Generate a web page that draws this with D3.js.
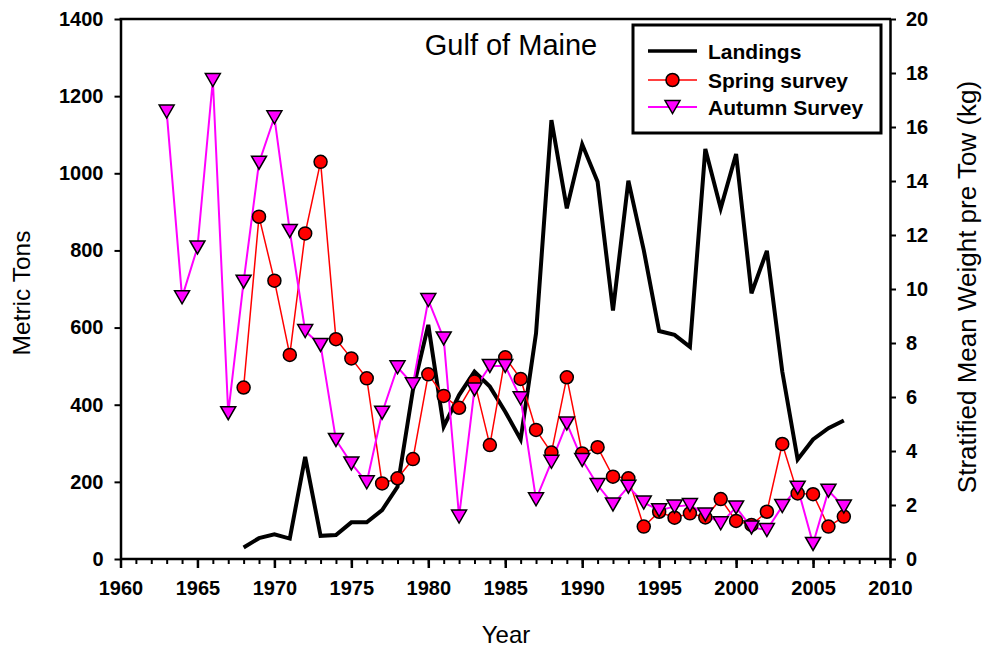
<!DOCTYPE html>
<html>
<head>
<meta charset="utf-8">
<script src="https://cdn.jsdelivr.net/npm/d3@7"></script>
<style>
  html, body { margin: 0; padding: 0; background: #fff; }
  svg { display: block; font-family: Arial, "Liberation Sans", sans-serif; }
</style>
</head>
<body>
<svg id="chart" width="986" height="651"></svg>
<script>
// ---- data ----
const landingYears = d3.range(1968, 2008);
const landings = [30,54,64,53,265,60,62,95,95,127,187,438,607,343,425,486,447,382,310,585,
                  1138,909,1075,978,644,981,801,591,581,550,1063,909,1050,689,799,486,258,310,339,359];
const springYears = d3.range(1968, 2008);
const spring = [6.35,12.68,10.31,7.56,12.06,14.71,8.14,7.43,6.69,2.8,2.99,3.7,6.84,6.04,5.6,6.57,4.22,7.47,6.67,4.78,
                3.94,6.73,3.91,4.14,3.05,2.99,1.2,1.75,1.53,1.69,1.54,2.22,1.41,1.26,1.75,4.26,2.43,2.4,1.2,1.57];
const autumnYears = d3.range(1963, 2008);
const autumn = [16.57,9.69,11.54,17.74,5.4,10.27,14.68,16.36,12.15,8.44,7.93,4.41,3.54,2.84,5.42,7.1,6.47,9.59,8.17,1.57,
                6.28,7.15,7.15,5.95,2.21,3.6,5.02,3.67,2.74,2.02,2.68,2.09,1.81,1.94,2.0,1.65,1.32,1.91,1.17,1.07,
                1.96,2.64,0.56,2.53,1.94];
const xTicks = [1960,1965,1970,1975,1980,1985,1990,1995,2000,2005,2010];
const leftTicks = [0,200,400,600,800,1000,1200,1400];
const rightTicks = [0,2,4,6,8,10,12,14,16,18,20];
const legendLabels = ["Landings", "Spring survey", "Autumn Survey"];
const titleText = "Gulf of Maine";

// ---- layout ----
const svg = d3.select("#chart");
const L = 120.5, R = 890, T = 19, B = 559;
const x = d3.scaleLinear().domain([1960, 2010]).range([L, R]);
const yL = d3.scaleLinear().domain([0, 1400]).range([B, T]);
const yR = d3.scaleLinear().domain([0, 20]).range([B, T]);

const tickFont = "bold 20px Arial, 'Liberation Sans', sans-serif";

// minor x ticks
svg.append("g").attr("transform", `translate(0,${B})`)
  .call(d3.axisBottom(x).tickValues(d3.range(1960, 2011)).tickSize(5).tickFormat(""))
  .call(g => { g.select(".domain").remove(); g.selectAll("line").attr("stroke","#000").attr("stroke-width",2); });
// major x ticks
const gx = svg.append("g").attr("transform", `translate(0,${B})`)
  .call(d3.axisBottom(x).tickValues(xTicks).tickSize(9).tickSizeOuter(0).tickFormat(d3.format("d")).tickPadding(8));
gx.select(".domain").attr("stroke-width", 2.5).attr("d", `M${L},0H${R}`);
gx.selectAll("line").attr("stroke-width", 2.5);
gx.selectAll("text").style("font", tickFont).attr("fill", "#000").attr("dy", "0.95em");

// left axis
const gl = svg.append("g").attr("transform", `translate(${L},0)`)
  .call(d3.axisLeft(yL).tickValues(leftTicks).tickSize(6).tickSizeOuter(0).tickPadding(11).tickFormat(d3.format("d")));
gl.select(".domain").attr("stroke-width", 2.5);
gl.selectAll("line").attr("stroke-width", 2);
gl.selectAll("text").style("font", tickFont).attr("fill", "#000");

// right axis
const gr = svg.append("g").attr("transform", `translate(${R},0)`)
  .call(d3.axisRight(yR).tickValues(rightTicks).tickSize(6).tickSizeOuter(0).tickPadding(10).tickFormat(d3.format("d")));
gr.select(".domain").attr("stroke-width", 2.5);
gr.selectAll("line").attr("stroke-width", 2);
gr.selectAll("text").style("font", tickFont).attr("fill", "#000");

// top frame
svg.append("line").attr("x1", L - 1).attr("x2", R + 1).attr("y1", T).attr("y2", T)
  .attr("stroke", "#000").attr("stroke-width", 2.5);

// axis titles
svg.append("text").attr("x", 506).attr("y", 643).attr("text-anchor", "middle")
  .style("font", "24px Arial, 'Liberation Sans', sans-serif").text("Year");
svg.append("text").attr("transform", "translate(30,293) rotate(-90)").attr("text-anchor", "middle")
  .style("font", "24.5px Arial, 'Liberation Sans', sans-serif").text("Metric Tons");
svg.append("text").attr("transform", "translate(976,287) rotate(-90)").attr("text-anchor", "middle")
  .style("font", "26px Arial, 'Liberation Sans', sans-serif").text("Stratified Mean Weight pre Tow (kg)");

// title
svg.append("text").attr("x", 511).attr("y", 55).attr("text-anchor", "middle")
  .style("font", "29px Arial, 'Liberation Sans', sans-serif").text(titleText);

// ---- series ----
const tri = "M-7.5,-6.5L7.5,-6.5L0,6.5Z";

const landData = landingYears.map((yr, i) => [yr, landings[i]]);
svg.append("path").datum(landData)
  .attr("fill", "none").attr("stroke", "#000").attr("stroke-width", 4).attr("stroke-linejoin", "miter")
  .attr("d", d3.line().x(d => x(d[0])).y(d => yL(d[1])));

const springData = springYears.map((yr, i) => [yr, spring[i]]);
svg.append("path").datum(springData)
  .attr("fill", "none").attr("stroke", "#ff0000").attr("stroke-width", 1.5)
  .attr("d", d3.line().x(d => x(d[0])).y(d => yR(d[1])));

const autumnData = autumnYears.map((yr, i) => [yr, autumn[i]]);
svg.append("path").datum(autumnData)
  .attr("fill", "none").attr("stroke", "#ff00ff").attr("stroke-width", 2)
  .attr("d", d3.line().x(d => x(d[0])).y(d => yR(d[1])));

svg.append("g").selectAll("circle").data(springData).join("circle")
  .attr("cx", d => x(d[0])).attr("cy", d => yR(d[1])).attr("r", 6.5)
  .attr("fill", "#ff0000").attr("stroke", "#000").attr("stroke-width", 1.5);

svg.append("g").selectAll("path").data(autumnData).join("path")
  .attr("transform", d => `translate(${x(d[0])},${yR(d[1])})`)
  .attr("d", tri).attr("fill", "#ff00ff").attr("stroke", "#000").attr("stroke-width", 1.5);

// ---- legend ----
const lg = svg.append("g");
lg.append("rect").attr("x", 633).attr("y", 25).attr("width", 248).attr("height", 108)
  .attr("fill", "#fff").attr("stroke", "#000").attr("stroke-width", 3);
const rows = [51, 80, 107];
const lx1 = 648, lx2 = 697, lm = 672.5;
lg.append("line").attr("x1", lx1).attr("x2", lx2).attr("y1", rows[0]).attr("y2", rows[0])
  .attr("stroke", "#000").attr("stroke-width", 3.5);
lg.append("line").attr("x1", lx1).attr("x2", lx2).attr("y1", rows[1]).attr("y2", rows[1])
  .attr("stroke", "#ff0000").attr("stroke-width", 1.5);
lg.append("circle").attr("cx", lm).attr("cy", rows[1]).attr("r", 6.5)
  .attr("fill", "#ff0000").attr("stroke", "#000").attr("stroke-width", 1.5);
lg.append("line").attr("x1", lx1).attr("x2", lx2).attr("y1", rows[2]).attr("y2", rows[2])
  .attr("stroke", "#ff00ff").attr("stroke-width", 2);
lg.append("path").attr("transform", `translate(${lm},${rows[2]})`).attr("d", tri)
  .attr("fill", "#ff00ff").attr("stroke", "#000").attr("stroke-width", 1.5);
lg.selectAll("text.leg").data(legendLabels).join("text").attr("class", "leg")
  .attr("x", 708).attr("y", (d, i) => rows[i]).attr("dy", "0.36em")
  .style("font", "bold 21px Arial, 'Liberation Sans', sans-serif").text(d => d);
</script>
</body>
</html>
